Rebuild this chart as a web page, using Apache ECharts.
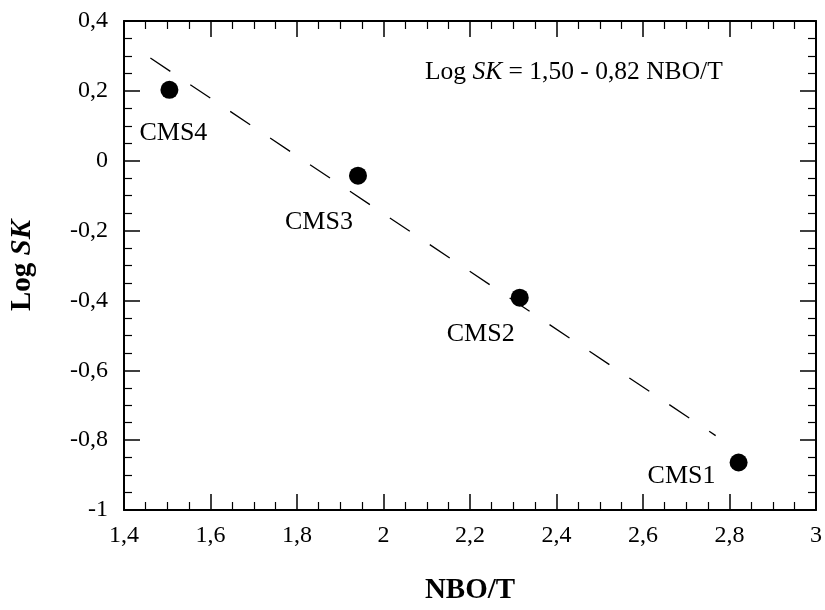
<!DOCTYPE html>
<html>
<head>
<meta charset="utf-8">
<script src="https://cdn.jsdelivr.net/npm/echarts@6/dist/echarts.min.js"></script>
<style>html,body{margin:0;padding:0;background:#fff}#c{width:825px;height:610px}</style>
</head>
<body>
<div id="c"></div>
<script>
// ---- data ----
var sampleNames = ['CMS4', 'CMS3', 'CMS2', 'CMS1'];
var nboT = [1.505, 1.941, 2.315, 2.821];
var logSK = [0.203, -0.043, -0.392, -0.864];
var fitX = [1.461, 2.768];
var fitY = [0.294, -0.787];
var xTitle = 'NBO/T';

// ---- label placement (style) ----
var labelOffsets = [[4, 43], [-39, 46], [-39, 37], [-57, 14]];

var FONT = "'Liberation Serif','Times New Roman',serif";

function fmt(v) {
  var r = Math.round(v * 10) / 10;
  return String(r).replace('.', ',');
}

var pts = nboT.map(function (x, i) {
  return {
    value: [x, logSK[i]],
    name: sampleNames[i],
    label: { offset: labelOffsets[i] }
  };
});
var fit = fitX.map(function (x, i) { return [x, fitY[i]]; });

var axisBase = {
  type: 'value',
  axisLine: { show: true, onZero: false, lineStyle: { color: '#000', width: 2 } },
  axisTick: { show: true, inside: true, length: 16, lineStyle: { color: '#000', width: 1.5 } },
  minorTick: { show: true, splitNumber: 4, length: 8, lineStyle: { color: '#000', width: 1.2 } },
  splitLine: { show: false },
  minorSplitLine: { show: false }
};

function ax(extra) { return Object.assign({}, JSON.parse(JSON.stringify(axisBase)), extra); }

var chart = echarts.init(document.getElementById('c'), null, { renderer: 'canvas' });
chart.setOption({
  animation: false,
  backgroundColor: '#fff',
  grid: { left: 114, right: 8, top: 21, bottom: 87, containLabel: false },
  xAxis: [
    ax({
      min: 1.4, max: 3, interval: 0.2, position: 'bottom',
      axisLabel: { formatter: fmt, color: '#000', fontFamily: FONT, fontSize: 24, margin: 14 },
      name: xTitle, nameLocation: 'middle', nameGap: 66,
      nameTextStyle: { color: '#000', fontFamily: FONT, fontSize: 29, fontWeight: 'bold' }
    }),
    ax({ min: 1.4, max: 3, interval: 0.2, position: 'top', axisLabel: { show: false } })
  ],
  yAxis: [
    ax({
      min: -1, max: 0.4, interval: 0.2, position: 'left',
      axisLabel: { formatter: fmt, color: '#000', fontFamily: FONT, fontSize: 24, margin: 16 },
      name: '{a|Log }{b|SK}', nameLocation: 'middle', nameGap: 87, nameRotate: 90,
      nameTextStyle: {
        color: '#000', fontFamily: FONT, fontSize: 29, fontWeight: 'bold',
        rich: {
          a: { fontFamily: FONT, fontSize: 29, fontWeight: 'bold', color: '#000' },
          b: { fontFamily: FONT, fontSize: 29, fontWeight: 'bold', fontStyle: 'italic', color: '#000' }
        }
      }
    }),
    ax({ min: -1, max: 0.4, interval: 0.2, position: 'right', axisLabel: { show: false } })
  ],
  graphic: [{
    type: 'text',
    left: 425,
    top: 59,
    style: {
      text: '{n|Log }{i|SK}{n| = 1,50 - 0,82 NBO/T}',
      rich: {
        n: { fontFamily: FONT, fontSize: 25.5, fill: '#000' },
        i: { fontFamily: FONT, fontSize: 25.5, fontStyle: 'italic', fill: '#000' }
      }
    }
  }],
  series: [
    {
      type: 'line',
      data: fit,
      symbol: 'none',
      lineStyle: { color: '#000', width: 1.3, type: [24, 24] },
      silent: true,
      z: 1
    },
    {
      type: 'scatter',
      data: pts,
      symbol: 'circle',
      symbolSize: 18,
      itemStyle: { color: '#000', opacity: 1 },
      label: {
        show: true,
        position: 'inside',
        formatter: function (p) { return p.name; },
        color: '#000',
        opacity: 1,
        fontFamily: FONT,
        fontSize: 26,
        align: 'center',
        verticalAlign: 'middle'
      },
      z: 3
    }
  ]
});
</script>
</body>
</html>
